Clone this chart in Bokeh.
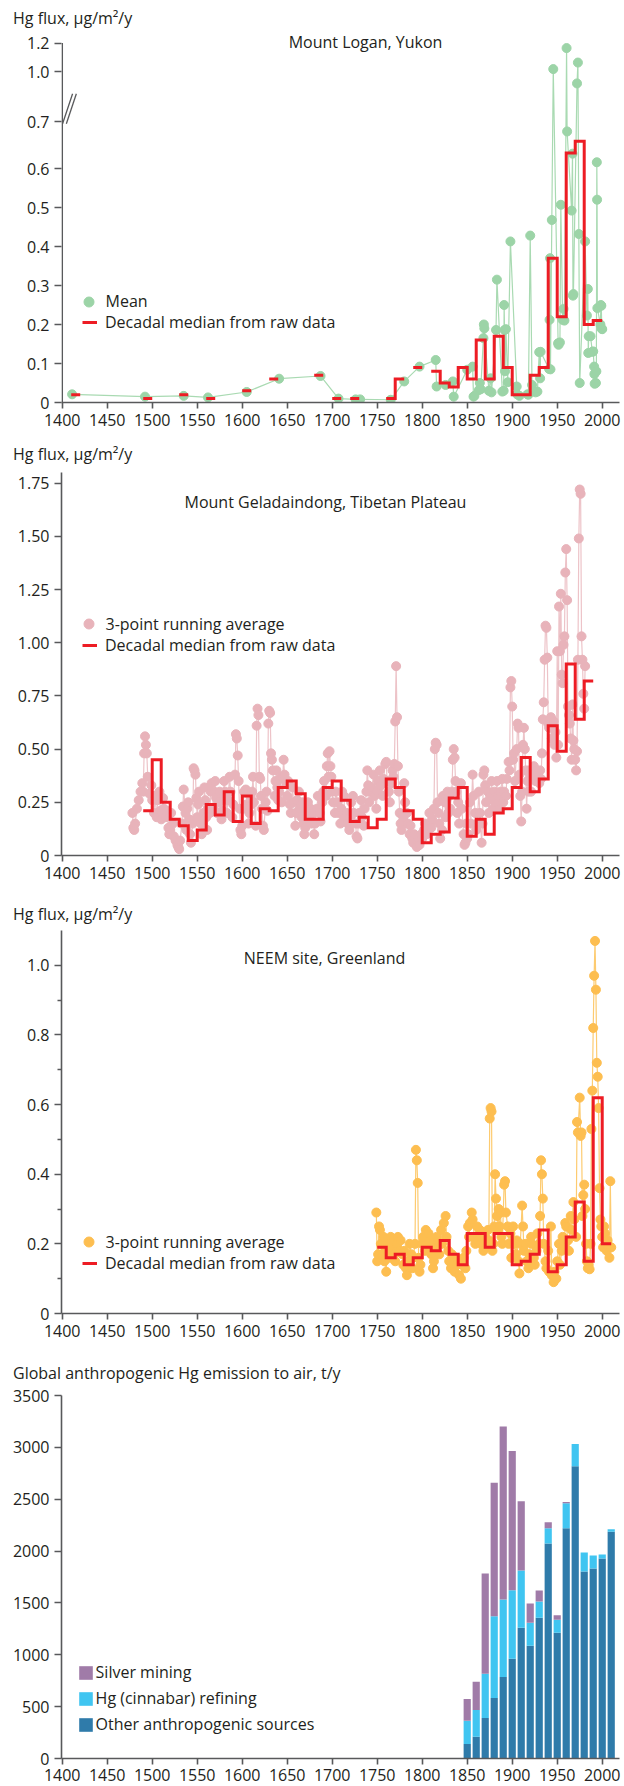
import numpy as np
from bokeh.plotting import figure
from bokeh.models import (FixedTicker, Label, Legend, LegendItem, Range1d, ColumnDataSource)
from bokeh.layouts import column
from bokeh.embed import file_html
from bokeh.resources import INLINE

FONT = "Open Sans"
TXT = "#231F20"
AX = "#58595B"
RED = "#ED1C24"

# ---------------- shared axis data ----------------
x_ticks = [1400, 1450, 1500, 1550, 1600, 1650, 1700, 1750, 1800, 1850, 1900, 1950, 2000]
x_tick_labels = ["1400", "1450", "1500", "1550", "1600", "1650", "1700", "1750",
                 "1800", "1850", "1900", "1950", "2000"]
y_title = "Hg flux, µg/m²/y"

# ---------------- Mount Logan ----------------
logan_years = [1411, 1492, 1535, 1562, 1605, 1641, 1687, 1707, 1726, 1731,
               1765, 1780, 1797, 1815, 1816, 1826, 1834, 1835, 1850, 1856,
               1857, 1858, 1863, 1864, 1865, 1868, 1868.5, 1869, 1874, 1876,
               1877, 1882, 1883, 1889, 1890.5, 1891, 1891.5, 1892, 1893, 1895,
               1898, 1905, 1905.5, 1908, 1917, 1918, 1920, 1922, 1926, 1928,
               1930, 1931, 1931.5, 1941, 1941.5, 1942, 1942.5, 1944, 1945.6, 1951,
               1951.5, 1953, 1954, 1956, 1957, 1958, 1960.4, 1961, 1966, 1967,
               1967.5, 1968, 1972, 1973, 1974, 1975, 1981, 1983, 1984, 1984.5,
               1985, 1987, 1989, 1990, 1991, 1991.3, 1991.6, 1993, 1993.5, 1994,
               1994.3, 1994.6, 1998, 1998.5, 1999, 1999.5, 2000]
logan_vals = [0.021, 0.015, 0.017, 0.013, 0.027, 0.061, 0.068, 0.010, 0.008, 0.008,
              0.007, 0.054, 0.092, 0.109, 0.041, 0.045, 0.054, 0.015, 0.084, 0.092,
              0.015, 0.017, 0.032, 0.050, 0.034, 0.165, 0.200, 0.190, 0.030, 0.062,
              0.026, 0.186, 0.315, 0.028, 0.030, 0.250, 0.186, 0.080, 0.188, 0.052,
              0.413, 0.041, 0.021, 0.017, 0.021, 0.020, 0.428, 0.045, 0.026, 0.028,
              0.129, 0.062, 0.130, 0.086, 0.212, 0.370, 0.085, 0.468, 1.017, 0.152,
              0.148, 0.154, 0.507, 0.212, 0.240, 0.210, 1.165, 0.695, 0.492, 0.638,
              0.274, 0.278, 0.916, 1.063, 0.432, 0.050, 0.413, 0.223, 0.291, 0.127,
              0.170, 0.170, 0.130, 0.131, 0.092, 0.073, 0.048, 0.050, 0.080, 0.616,
              0.520, 0.242, 0.200, 0.250, 0.248, 0.189, 0.188]
logan_med_start = [1410, 1490, 1530, 1560, 1600, 1630, 1680, 1700, 1720, 1760,
                   1770, 1790, 1810, 1820, 1830, 1840, 1850, 1860, 1870, 1880,
                   1890, 1900, 1910, 1920, 1930, 1940, 1950, 1960, 1970, 1980, 1990]
logan_med_vals = [0.02, 0.01, 0.02, 0.01, 0.03, 0.06, 0.07, 0.01, 0.01, 0.01,
                  0.06, 0.09, 0.08, 0.05, 0.04, 0.09, 0.06, 0.16, 0.06, 0.17,
                  0.09, 0.02, 0.02, 0.07, 0.09, 0.37, 0.22, 0.64, 0.67, 0.20, 0.21]
logan_yticks = [0, 0.1, 0.2, 0.3, 0.4, 0.5, 0.6, 0.7, 1.0, 1.2]
logan_ytick_labels = ["0", "0.1", "0.2", "0.3", "0.4", "0.5", "0.6", "0.7", "1.0", "1.2"]

# ---------------- Mount Geladaindong ----------------
gel_years = [1478, 1479, 1480, 1481, 1483, 1485, 1487, 1489,
             1490, 1491, 1492, 1493, 1494, 1495, 1497, 1499,
             1500, 1502, 1503, 1505, 1506, 1508, 1509,
             1510, 1512, 1513, 1515, 1516, 1518, 1519,
             1520, 1521, 1523, 1524, 1526, 1528, 1529,
             1530, 1531, 1533, 1534, 1535, 1537, 1538, 1539,
             1540, 1541, 1542, 1543, 1545, 1546, 1547, 1548, 1549,
             1550, 1551, 1552, 1554, 1555, 1557, 1558, 1559,
             1560, 1561, 1562, 1564, 1565, 1566, 1568, 1569,
             1570, 1571, 1572, 1574, 1575, 1577, 1578, 1579,
             1580, 1581, 1583, 1584, 1586, 1587, 1589,
             1590, 1592, 1593, 1594, 1595, 1596, 1597, 1598, 1599,
             1600, 1601, 1602, 1604, 1605, 1607, 1608, 1609,
             1610, 1611, 1612, 1613, 1615, 1616, 1617, 1618, 1619,
             1620, 1621, 1622, 1623, 1624, 1626, 1627, 1628, 1629,
             1630, 1631, 1632, 1633, 1634, 1636, 1637, 1638, 1639,
             1640, 1641, 1642, 1644, 1645, 1646, 1647, 1649,
             1650, 1651, 1653, 1654, 1656, 1657, 1659,
             1660, 1661, 1663, 1664, 1666, 1667, 1668, 1669,
             1670, 1671, 1673, 1674, 1676, 1677, 1679,
             1680, 1681, 1683, 1684, 1686, 1687, 1689,
             1690, 1691, 1693, 1694, 1695, 1696, 1697, 1698, 1699,
             1700, 1701, 1703, 1704, 1706, 1707, 1709,
             1710, 1711, 1713, 1714, 1716, 1717, 1719,
             1720, 1721, 1723, 1724, 1726, 1727, 1728, 1729,
             1730, 1732, 1733, 1735, 1736, 1738, 1739,
             1740, 1741, 1743, 1744, 1746, 1747, 1749,
             1750, 1751, 1753, 1754, 1756, 1757, 1759,
             1760, 1761, 1763, 1764, 1766, 1767, 1768, 1769,
             1770, 1771, 1772, 1773, 1774, 1775, 1776, 1777, 1779,
             1780, 1781, 1783, 1784, 1786, 1787, 1789,
             1790, 1791, 1793, 1794, 1796, 1797, 1799,
             1800, 1802, 1803, 1805, 1806, 1808, 1809,
             1810, 1811, 1813, 1814, 1815, 1816, 1817, 1818, 1819,
             1820, 1822, 1823, 1825, 1826, 1828, 1829,
             1830, 1831, 1833, 1834, 1835, 1836, 1837, 1838, 1839,
             1840, 1841, 1843, 1844, 1846, 1847, 1848, 1849,
             1850, 1851, 1853, 1854, 1856, 1857, 1859,
             1860, 1861, 1863, 1864, 1866, 1867, 1868, 1869,
             1870, 1871, 1873, 1874, 1876, 1877, 1879,
             1880, 1881, 1883, 1884, 1886, 1887, 1889,
             1890, 1891, 1893, 1894, 1896, 1897, 1898, 1899,
             1900, 1901, 1902, 1903, 1905, 1906, 1907, 1908, 1909,
             1910, 1911, 1912, 1913, 1914, 1915, 1916, 1917, 1918, 1919,
             1920, 1921, 1923, 1924, 1926, 1927, 1929,
             1930, 1931, 1932, 1933, 1934, 1935, 1936, 1937, 1938, 1939,
             1940, 1941, 1942, 1943, 1944, 1945, 1946, 1947, 1948, 1949,
             1950, 1951, 1952, 1953, 1954, 1955, 1956, 1957, 1958, 1959,
             1960, 1961, 1962, 1963, 1964, 1965, 1966, 1967, 1968, 1969,
             1970, 1971, 1972, 1973, 1974, 1975, 1976, 1977, 1978, 1979,
             1980, 1981]
gel_vals = [0.20, 0.13, 0.12, 0.15, 0.22, 0.26, 0.30, 0.34,
            0.30, 0.48, 0.56, 0.52, 0.48, 0.37, 0.29, 0.33,
            0.26, 0.20, 0.28, 0.18, 0.26, 0.30, 0.21,
            0.17, 0.27, 0.22, 0.18, 0.21, 0.13, 0.10,
            0.12, 0.20, 0.15, 0.09, 0.07, 0.05, 0.04,
            0.03, 0.07, 0.15, 0.23, 0.31, 0.20, 0.12, 0.22,
            0.25, 0.17, 0.10, 0.06, 0.15, 0.41, 0.40, 0.38, 0.27,
            0.18, 0.24, 0.30, 0.15, 0.10, 0.20, 0.32, 0.26,
            0.18, 0.12, 0.22, 0.20, 0.30, 0.34, 0.22, 0.30,
            0.35, 0.27, 0.20, 0.25, 0.30, 0.17, 0.21, 0.28,
            0.35, 0.30, 0.20, 0.26, 0.37, 0.30, 0.18,
            0.24, 0.38, 0.57, 0.55, 0.47, 0.35, 0.22, 0.12, 0.10,
            0.14, 0.22, 0.30, 0.31, 0.24, 0.15, 0.20, 0.28,
            0.24, 0.30, 0.37, 0.25, 0.14, 0.61, 0.69, 0.66, 0.37,
            0.36, 0.28, 0.22, 0.14, 0.12, 0.25, 0.30, 0.21, 0.62,
            0.68, 0.67, 0.48, 0.45, 0.40, 0.28, 0.35, 0.40, 0.32,
            0.26, 0.30, 0.36, 0.25, 0.37, 0.45, 0.38, 0.34,
            0.28, 0.35, 0.24, 0.20, 0.32, 0.25, 0.14,
            0.20, 0.26, 0.30, 0.22, 0.18, 0.25, 0.15, 0.10,
            0.13, 0.20, 0.25, 0.18, 0.22, 0.15, 0.20,
            0.10, 0.15, 0.22, 0.28, 0.20, 0.16, 0.25,
            0.30, 0.35, 0.28, 0.42, 0.48, 0.37, 0.49, 0.42, 0.37,
            0.30, 0.25, 0.20, 0.30, 0.25, 0.20, 0.15,
            0.22, 0.30, 0.28, 0.18, 0.20, 0.15, 0.12,
            0.18, 0.25, 0.28, 0.20, 0.15, 0.09, 0.08, 0.15,
            0.20, 0.26, 0.18, 0.14, 0.22, 0.30, 0.40,
            0.33, 0.25, 0.30, 0.32, 0.38, 0.28, 0.22,
            0.30, 0.35, 0.40, 0.33, 0.28, 0.36, 0.43,
            0.44, 0.35, 0.30, 0.25, 0.34, 0.40, 0.37, 0.43,
            0.63, 0.89, 0.65, 0.42, 0.30, 0.20, 0.15, 0.12, 0.18,
            0.34, 0.25, 0.20, 0.15, 0.10, 0.14, 0.08,
            0.06, 0.10, 0.05, 0.04, 0.08, 0.05, 0.10,
            0.08, 0.12, 0.15, 0.10, 0.13, 0.20, 0.15,
            0.13, 0.17, 0.22, 0.50, 0.53, 0.52, 0.25, 0.20, 0.15,
            0.08, 0.12, 0.28, 0.25, 0.18, 0.30, 0.20,
            0.28, 0.22, 0.30, 0.45, 0.50, 0.46, 0.35, 0.30, 0.20,
            0.25, 0.15, 0.34, 0.22, 0.10, 0.05, 0.06, 0.15,
            0.08, 0.10, 0.25, 0.15, 0.38, 0.28, 0.20,
            0.12, 0.15, 0.30, 0.20, 0.06, 0.15, 0.38, 0.40,
            0.33, 0.25, 0.30, 0.20, 0.28, 0.35, 0.22,
            0.30, 0.25, 0.35, 0.28, 0.22, 0.30, 0.36,
            0.25, 0.30, 0.28, 0.36, 0.44, 0.40, 0.79, 0.82,
            0.70, 0.45, 0.48, 0.35, 0.50, 0.62, 0.60, 0.38, 0.28,
            0.16, 0.30, 0.52, 0.60, 0.50, 0.40, 0.22, 0.35, 0.30, 0.40,
            0.38, 0.30, 0.40, 0.42, 0.35, 0.40, 0.37,
            0.34, 0.40, 0.36, 0.48, 0.64, 0.72, 0.92, 1.08, 1.07, 0.93,
            0.62, 0.60, 0.64, 0.65, 0.55, 0.60, 0.63, 0.52, 0.58, 0.46,
            0.96, 0.52, 1.17, 0.96, 1.23, 0.85, 0.81, 0.99, 1.03, 1.33,
            1.44, 1.20, 0.70, 0.66, 0.62, 0.55, 0.45, 0.71, 0.54, 0.50,
            0.45, 0.40, 0.49, 0.92, 1.49, 1.72, 1.70, 1.03, 0.92, 0.76,
            0.69, 0.89]
gel_med_start = [1490, 1500, 1510, 1520, 1530, 1540, 1550, 1560, 1570, 1580,
                 1590, 1600, 1610, 1620, 1630, 1640, 1650, 1660, 1670, 1680,
                 1690, 1700, 1710, 1720, 1730, 1740, 1750, 1760, 1770, 1780,
                 1790, 1800, 1810, 1820, 1830, 1840, 1850, 1860, 1870, 1880,
                 1890, 1900, 1910, 1920, 1930, 1940, 1950, 1960, 1970, 1980]
gel_med_vals = [0.21, 0.45, 0.25, 0.17, 0.14, 0.07, 0.12, 0.24, 0.19, 0.30,
                0.16, 0.28, 0.15, 0.22, 0.21, 0.32, 0.35, 0.29, 0.17, 0.17,
                0.32, 0.35, 0.26, 0.16, 0.18, 0.13, 0.17, 0.36, 0.32, 0.21,
                0.17, 0.06, 0.10, 0.11, 0.27, 0.32, 0.09, 0.17, 0.10, 0.20,
                0.22, 0.32, 0.46, 0.30, 0.36, 0.61, 0.49, 0.90, 0.64, 0.82]
gel_yticks = [0, 0.25, 0.5, 0.75, 1.0, 1.25, 1.5, 1.75]
gel_ytick_labels = ["0", "0.25", "0.50", "0.75", "1.00", "1.25", "1.50", "1.75"]

# ---------------- NEEM ----------------
neem_years = [1749, 1750, 1751, 1752, 1753, 1754, 1755, 1757, 1758,
              1760, 1761, 1762, 1764, 1765, 1766, 1768, 1769,
              1770, 1772, 1773, 1775, 1776, 1778, 1779,
              1780, 1782, 1783, 1785, 1786, 1788, 1789,
              1790, 1792, 1793, 1794, 1795, 1796, 1797, 1798,
              1800, 1801, 1803, 1804, 1806, 1807, 1809,
              1810, 1812, 1813, 1815, 1816, 1818, 1819,
              1821, 1822, 1824, 1826, 1827, 1829,
              1830, 1832, 1833, 1835, 1836, 1838, 1839,
              1841, 1843, 1844, 1846, 1848, 1849,
              1851, 1852, 1853, 1855, 1856, 1858, 1859,
              1861, 1862, 1864, 1865, 1867, 1868,
              1870, 1871, 1873, 1874, 1875, 1876, 1877, 1878, 1879,
              1880, 1881, 1882, 1883, 1884, 1885, 1886, 1887, 1888, 1889,
              1891, 1892, 1893, 1895, 1896, 1898, 1899,
              1901, 1902, 1904, 1905, 1907, 1908, 1909,
              1911, 1912, 1913, 1915, 1916, 1918, 1919,
              1921, 1922, 1924, 1925, 1927, 1928,
              1930, 1931, 1932, 1933, 1934, 1935, 1937, 1938,
              1940, 1941, 1943, 1944, 1946, 1947, 1949,
              1950, 1952, 1953, 1955, 1956, 1958, 1959,
              1960, 1962, 1963, 1965, 1966, 1968, 1969,
              1971, 1972, 1973, 1975, 1976, 1977, 1978, 1979,
              1980, 1981, 1982, 1983, 1984, 1985, 1986, 1987, 1988, 1989,
              1990, 1991, 1992, 1993, 1994, 1995, 1996, 1997, 1998, 1999,
              2000, 2001, 2002, 2003, 2004, 2005, 2006, 2007, 2008, 2009, 2010]
neem_vals = [0.29, 0.15, 0.17, 0.25, 0.24, 0.20, 0.17, 0.22, 0.15,
             0.12, 0.18, 0.20, 0.16, 0.22, 0.19, 0.21, 0.17,
             0.15, 0.20, 0.22, 0.18, 0.21, 0.17, 0.14,
             0.18, 0.13, 0.11, 0.15, 0.20, 0.17, 0.13,
             0.16, 0.20, 0.47, 0.44, 0.375, 0.16, 0.12, 0.14,
             0.20, 0.22, 0.18, 0.24, 0.19, 0.23, 0.21,
             0.17, 0.13, 0.15, 0.19, 0.22, 0.20, 0.17,
             0.24, 0.20, 0.26, 0.28, 0.22, 0.18,
             0.15, 0.13, 0.17, 0.14, 0.12, 0.16, 0.14,
             0.11, 0.10, 0.14, 0.16, 0.13, 0.18,
             0.25, 0.22, 0.26, 0.29, 0.27, 0.22, 0.20,
             0.25, 0.21, 0.24, 0.20, 0.23, 0.18,
             0.22, 0.19, 0.24, 0.21, 0.56, 0.59, 0.58, 0.18, 0.20,
             0.25, 0.40, 0.33, 0.28, 0.24, 0.30, 0.25, 0.29, 0.22, 0.20,
             0.37, 0.38, 0.29, 0.25, 0.20, 0.23, 0.16,
             0.25, 0.20, 0.17, 0.21, 0.15, 0.115, 0.20,
             0.31, 0.25, 0.18, 0.20, 0.15, 0.13, 0.17,
             0.22, 0.20, 0.16, 0.14, 0.18, 0.23,
             0.20, 0.28, 0.44, 0.40, 0.33, 0.20, 0.15, 0.13,
             0.18, 0.12, 0.25, 0.11, 0.09, 0.12, 0.10,
             0.15, 0.20, 0.14, 0.18, 0.22, 0.20, 0.26,
             0.25, 0.21, 0.18, 0.28, 0.24, 0.32, 0.27,
             0.22, 0.55, 0.52, 0.62, 0.51, 0.52, 0.28, 0.34,
             0.37, 0.30, 0.20, 0.15, 0.13, 0.14, 0.127, 0.20, 0.53, 0.64,
             0.82, 0.97, 1.07, 0.93, 0.72, 0.68, 0.59, 0.36, 0.27, 0.25,
             0.22, 0.19, 0.25, 0.23, 0.20, 0.18, 0.21, 0.19, 0.16, 0.38, 0.19]
neem_med_start = [1750, 1760, 1770, 1780, 1790, 1800, 1810, 1820, 1830, 1840,
                  1850, 1860, 1870, 1880, 1890, 1900, 1910, 1920, 1930, 1940,
                  1950, 1960, 1970, 1980, 1990, 2000]
neem_med_vals = [0.19, 0.16, 0.17, 0.14, 0.16, 0.19, 0.18, 0.21, 0.17, 0.14,
                 0.23, 0.23, 0.19, 0.23, 0.23, 0.14, 0.15, 0.17, 0.24, 0.12,
                 0.14, 0.22, 0.32, 0.15, 0.62, 0.20]
neem_yticks = [0, 0.2, 0.4, 0.6, 0.8, 1.0]
neem_ytick_labels = ["0", "0.2", "0.4", "0.6", "0.8", "1.0"]
neem_minor = [0.1, 0.3, 0.5, 0.7, 0.9]

# ---------------- Global emissions ----------------
em_decades = [1850, 1860, 1870, 1880, 1890, 1900, 1910, 1920, 1930, 1940,
              1950, 1960, 1970, 1980, 1990, 2000, 2010]
em_other = [139, 210, 390, 584, 787, 961, 1261, 1087, 1358, 2074,
            1213, 2219, 2819, 1803, 1832, 1929, 2187]
em_hg = [226, 258, 426, 787, 745, 662, 552, 223, 155, 145,
         126, 242, 213, 184, 126, 39, 23]
em_silver = [209, 271, 968, 1287, 1668, 1342, 668, 184, 106, 58,
             42, 13, 0, 0, 0, 0, 0]
em_yticks = [0, 500, 1000, 1500, 2000, 2500, 3000, 3500]
em_ytick_labels = ["0", "500", "1000", "1500", "2000", "2500", "3000", "3500"]

# ---------------- helpers ----------------
X0, X1 = 1399.2, 2019.2
# Mount Logan broken axis: values above the break use a compressed scale
BREAK = 0.7
UP_ANCHOR_V, UP_ANCHOR_T, UP_SLOPE = 1.0, 0.8487, 0.3641


def logan_t(v):
    return v if v <= BREAK + 0.05 else UP_ANCHOR_T + (v - UP_ANCHOR_V) * UP_SLOPE


def logan_tick_pos(v):
    if v < BREAK:
        return v
    if v == BREAK:
        return 0.5 * (BREAK + UP_ANCHOR_T + (BREAK - UP_ANCHOR_V) * UP_SLOPE)
    return UP_ANCHOR_T + (v - UP_ANCHOR_V) * UP_SLOPE


def step_path(starts, vals, width=10):
    xs, ys = [], []
    prev_end = None
    for s, v in zip(starts, vals):
        if prev_end is not None and s != prev_end:
            xs.append(np.nan)
            ys.append(np.nan)
        xs += [s, s + width]
        ys += [v, v]
        prev_end = s + width
    return np.array(xs, dtype=float), np.array(ys, dtype=float)


def key(v):
    return int(v) if float(v).is_integer() else v


def make_fig(height, top, bottom, y_end, ypos, ylabels, title, title_standoff,
             minor=None, x_standoff=5):
    p = figure(width=624, height=height, x_range=Range1d(X0, X1),
               y_range=Range1d(0, y_end), output_backend="svg", toolbar_location=None,
               min_border_left=61, min_border_right=5, min_border_top=top,
               min_border_bottom=bottom)
    p.outline_line_color = None
    p.xgrid.visible = False
    p.ygrid.visible = False
    p.background_fill_color = "white"
    p.border_fill_color = "white"
    p.title.text = title
    p.title.align = "left"
    p.title.offset = -48.5
    p.title.standoff = title_standoff
    p.title.vertical_align = "bottom"
    p.title.text_font = FONT
    p.title.text_font_size = "16px"
    p.title.text_font_style = "normal"
    p.title.text_color = TXT
    for ax in (p.xaxis[0], p.yaxis[0]):
        ax.axis_line_color = AX
        ax.axis_line_width = 1.6
        ax.major_tick_line_color = AX
        ax.major_tick_line_width = 1.6
        ax.minor_tick_line_color = AX
        ax.minor_tick_line_width = 1.4
        ax.major_tick_in = 0
        ax.minor_tick_in = 0
        ax.major_label_text_font = FONT
        ax.major_label_text_font_size = "16px"
        ax.major_label_text_color = TXT
    p.xaxis.ticker = FixedTicker(ticks=x_ticks)
    p.xaxis.major_label_overrides = {key(t): l for t, l in zip(x_ticks, x_tick_labels)}
    p.xaxis.major_tick_out = 6
    p.xaxis.major_label_standoff = x_standoff
    p.yaxis.ticker = FixedTicker(ticks=list(ypos), minor_ticks=list(minor or []))
    p.yaxis.major_label_overrides = {key(t): l for t, l in zip(ypos, ylabels)}
    p.yaxis.major_tick_out = 7
    p.yaxis.minor_tick_out = 4
    p.yaxis.major_label_standoff = 5
    return p


def add_text(p, text, x, y, align="center"):
    p.add_layout(Label(x=x, y=y, text=text, text_font=FONT, text_font_size="16px",
                       text_color=TXT, text_align=align, text_baseline="middle"))


def add_legend(p, items, loc, gw, gh, lh, spacing, standoff):
    lg = Legend(items=items, location=loc, orientation="vertical",
                glyph_width=gw, glyph_height=gh, label_height=lh, spacing=spacing,
                label_standoff=standoff, padding=0, margin=0,
                border_line_alpha=0, background_fill_alpha=0,
                label_text_font=FONT, label_text_font_size="16px",
                label_text_color=TXT)
    p.add_layout(lg)


def series_panel(p, years, vals, dot, line_col, med_starts, med_vals, tf=lambda v: v):
    ty = [tf(v) for v in vals]
    p.line(years, ty, line_color=line_col, line_width=1.2)
    sc = p.scatter(years, ty, size=9, marker="circle", fill_color=dot, line_color=dot)
    mx, my = step_path(med_starts, [tf(v) for v in med_vals])
    ln = p.line(mx, my, line_color=RED, line_width=3, line_join="miter")
    return sc, ln


def point_legends(p, dot_label, sc, ln, circle_y, line_y):
    add_legend(p, [LegendItem(label=dot_label, renderers=[sc])], (14.5, circle_y),
               25, 25, 25, 0, 5)
    add_legend(p, [LegendItem(label="Decadal median from raw data", renderers=[ln])],
               (21, line_y), 15, 22, 22, 0, 8)


# ---------------- Panel 1: Mount Logan ----------------
logan_axis_top = logan_tick_pos(1.2)
p1 = make_fig(430, 28, 28, 374 / 390, [logan_tick_pos(v) for v in logan_yticks],
              logan_ytick_labels, y_title, 0)
p1.yaxis.axis_line_color = None
p1.segment(x0=[1400], y0=[0], x1=[1400], y1=[logan_axis_top], line_color=AX, line_width=1.6)
sc1, ln1 = series_panel(p1, logan_years, logan_vals, "#9CD4A7", "#A9DAB2",
                        logan_med_start, logan_med_vals, tf=logan_t)
add_text(p1, "Mount Logan, Yukon", 1737, 0.9255)
point_legends(p1, "Mean", sc1, ln1, 88.5, 69)
# break marks on the y axis (two parallel slashes)
b_lo = logan_tick_pos(BREAK) - 0.005
b_hi = b_lo + 0.077
p1.segment(x0=[1400.4, 1404.6], y0=[b_lo, b_lo], x1=[1411.5, 1415.7], y1=[b_hi, b_hi],
           line_color=AX, line_width=1.3)

# ---------------- Panel 2: Mount Geladaindong ----------------
p2 = make_fig(460, 42, 35, 1.8, gel_yticks, gel_ytick_labels, y_title, 14.6)
sc2, ln2 = series_panel(p2, gel_years, gel_vals, "#E8B3BA", "#EDC3C8",
                        gel_med_start, gel_med_vals)
add_text(p2, "Mount Geladaindong, Tibetan Plateau", 1692.5, 1.6635)
point_legends(p2, "3-point running average", sc2, ln2, 219, 198.8)

# ---------------- Panel 3: NEEM ----------------
p3 = make_fig(452, 40, 29, 1.1, neem_yticks, neem_ytick_labels, y_title, 10.6,
              minor=neem_minor)
sc3, ln3 = series_panel(p3, neem_years, neem_vals, "#FDBE50", "#FDCB70",
                        neem_med_start, neem_med_vals)
add_text(p3, "NEEM site, Greenland", 1691.5, 1.0223)
point_legends(p3, "3-point running average", sc3, ln3, 58.8, 38.7)

# ---------------- Panel 4: emissions ----------------
p4 = make_fig(444, 53, 28, 3500, em_yticks, em_ytick_labels,
              "Global anthropogenic Hg emission to air, t/y", 22.6, x_standoff=4)
src = ColumnDataSource(dict(year=em_decades, other=em_other, hg=em_hg, silver=em_silver))
bars = p4.vbar_stack(["other", "hg", "silver"], x="year", width=8, source=src,
                     color=["#2F7BAA", "#40C5F1", "#A07BA8"], line_width=0)
add_legend(p4, [LegendItem(label="Silver mining", renderers=[bars[2]]),
                LegendItem(label="Hg (cinnabar) refining", renderers=[bars[1]]),
                LegendItem(label="Other anthropogenic sources", renderers=[bars[0]])],
           (15.6, 22.8), 17, 17, 17, 4, 2)

layout = column(p1, p2, p3, p4, spacing=0)
open("out.html", "w").write(file_html(layout, INLINE))
